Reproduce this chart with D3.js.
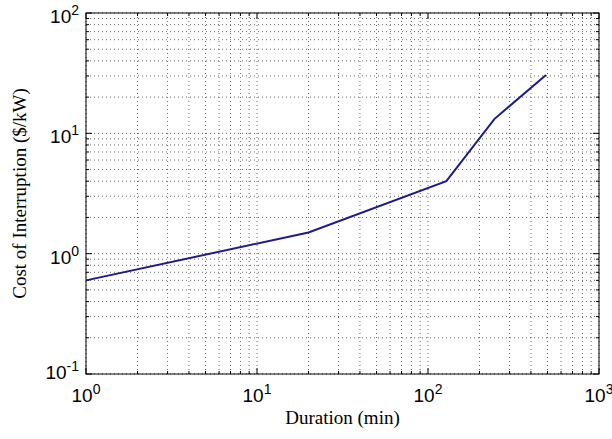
<!DOCTYPE html>
<html>
<head>
<meta charset="utf-8">
<script src="https://cdn.jsdelivr.net/npm/d3@7"></script>
<style>
body{margin:0;background:#fff;}
svg{display:block;}
.tick-lbl{font-family:"Liberation Sans",Arial,sans-serif;font-size:19px;fill:#000;}
.ttl{font-family:"Liberation Serif","Times New Roman",serif;font-size:19px;fill:#000;}
</style>
</head>
<body>
<svg id="chart" width="612" height="439"></svg>
<script>
// data
var duration = [1, 20, 128, 245, 490];
var cost = [0.6, 1.5, 4.0, 13.2, 30.5];
var xDecades = [0, 1, 2, 3];
var yDecades = [-1, 0, 1, 2];

var W = 612, H = 439;
var m = {left: 86, right: 13, top: 13, bottom: 65};
var svg = d3.select("#chart");

var x = d3.scaleLog().domain([1, 1000]).range([m.left, W - m.right]);
var y = d3.scaleLog().domain([0.1, 100]).range([H - m.bottom, m.top]);

// all grid values (major + minor)
function gridVals(decs){
	var v = [];
	for(var i=0;i<decs.length-1;i++){
		for(var k=1;k<10;k++) v.push(k*Math.pow(10, decs[i]));
	}
	v.push(Math.pow(10, decs[decs.length-1]));
	return v;
}
var xg = gridVals(xDecades), yg = gridVals(yDecades);

var g = svg.append("g");

// gridlines
g.selectAll(".gx").data(xg).enter().append("line")
	.attr("x1", function(d){return x(d);}).attr("x2", function(d){return x(d);})
	.attr("y1", y(0.1)).attr("y2", y(100))
	.attr("stroke", "#666").attr("stroke-width", 1).attr("stroke-dasharray", "1,3");
g.selectAll(".gy").data(yg).enter().append("line")
	.attr("y1", function(d){return y(d);}).attr("y2", function(d){return y(d);})
	.attr("x1", x(1)).attr("x2", x(1000))
	.attr("stroke", "#666").attr("stroke-width", 1).attr("stroke-dasharray", "1,3");

// tick marks on all four sides, pointing in
function isMajor(d){ return Math.abs(Math.log10(d) - Math.round(Math.log10(d))) < 1e-9; }
g.selectAll(".tb").data(xg).enter().append("line")
	.attr("x1", function(d){return x(d);}).attr("x2", function(d){return x(d);})
	.attr("y1", y(0.1)).attr("y2", function(d){return y(0.1) - (isMajor(d)?6:3);})
	.attr("stroke", "#000");
g.selectAll(".tt").data(xg).enter().append("line")
	.attr("x1", function(d){return x(d);}).attr("x2", function(d){return x(d);})
	.attr("y1", y(100)).attr("y2", function(d){return y(100) + (isMajor(d)?6:3);})
	.attr("stroke", "#000");
g.selectAll(".tl").data(yg).enter().append("line")
	.attr("y1", function(d){return y(d);}).attr("y2", function(d){return y(d);})
	.attr("x1", x(1)).attr("x2", function(d){return x(1) + (isMajor(d)?6:3);})
	.attr("stroke", "#000");
g.selectAll(".tr").data(yg).enter().append("line")
	.attr("y1", function(d){return y(d);}).attr("y2", function(d){return y(d);})
	.attr("x1", x(1000)).attr("x2", function(d){return x(1000) - (isMajor(d)?6:3);})
	.attr("stroke", "#000");

// box
g.append("rect")
	.attr("x", x(1)).attr("y", y(100))
	.attr("width", x(1000) - x(1)).attr("height", y(0.1) - y(100))
	.attr("fill", "none").attr("stroke", "#000").attr("stroke-width", 1);

// data line
var line = d3.line()
	.x(function(d){return x(d[0]);})
	.y(function(d){return y(d[1]);});
g.append("path")
	.datum(d3.zip(duration, cost))
	.attr("d", line)
	.attr("fill", "none").attr("stroke", "#1c1c8a").attr("stroke-width", 2);

// x tick labels
xDecades.forEach(function(e){
	var t = g.append("text").attr("class", "tick-lbl")
		.attr("x", x(Math.pow(10, e))).attr("y", y(0.1) + 28)
		.attr("text-anchor", "middle");
	t.append("tspan").text("10");
	t.append("tspan").attr("dy", -8).attr("font-size", 14).text(e);
});

// y tick labels (bottom one sits a bit higher, like the original)
yDecades.forEach(function(e){
	var t = g.append("text").attr("class", "tick-lbl")
		.attr("x", x(1) - 7).attr("y", y(Math.pow(10, e)) + (e == yDecades[0] ? 5 : 10))
		.attr("text-anchor", "end");
	t.append("tspan").text("10");
	t.append("tspan").attr("dy", -8).attr("font-size", 14).text(e);
});

// axis titles
g.append("text").attr("class", "ttl")
	.attr("x", (x(1) + x(1000)) / 2).attr("y", H - 15)
	.attr("text-anchor", "middle").text("Duration (min)");
g.append("text").attr("class", "ttl")
	.attr("transform", "translate(26," + ((y(0.1) + y(100)) / 2) + ") rotate(-90)")
	.attr("text-anchor", "middle").text("Cost of Interruption ($/kW)");
</script>
</body>
</html>
